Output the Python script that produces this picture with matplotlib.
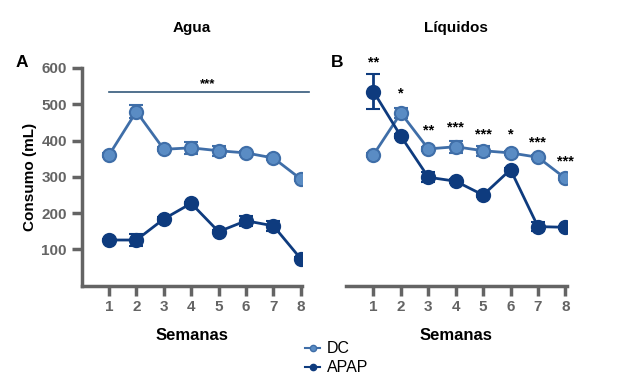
import matplotlib
matplotlib.use("Agg")
import matplotlib.pyplot as plt
from matplotlib.lines import Line2D

plt.rcParams['font.family'] = ['Liberation Sans', 'DejaVu Sans']

semanas = [1, 2, 3, 4, 5, 6, 7, 8]

# Agua
dc_agua = [360, 480, 376, 380, 372, 366, 352, 294]
dc_agua_err = [5, 18, 6, 16, 14, 6, 6, 6]
apap_agua = [126, 126, 184, 227, 149, 179, 165, 74]
apap_agua_err = [4, 16, 6, 5, 5, 14, 14, 4]

# Liquidos
dc_liq = [361, 476, 377, 383, 372, 366, 354, 296]
dc_liq_err = [5, 13, 6, 17, 14, 6, 6, 6]
apap_liq = [535, 412, 299, 288, 250, 320, 163, 161]
apap_liq_err = [49, 5, 14, 5, 5, 5, 12, 4]
estrellas = ['**', '*', '**', '***', '***', '*', '***', '***']
pos_estrellas = [596, 510, 408, 418, 398, 398, 376, 322]

c_dc = '#3f6ea8'
c_dc_fill = '#5a8cc4'
c_apap = '#0e3b7e'
gris = '#646464'

fig = plt.figure(figsize=(6.18, 3.82), dpi=100)
axA = fig.add_axes([0.132, 0.252, 0.357, 0.57])
axB = fig.add_axes([0.560, 0.252, 0.357, 0.57])


def serie(ax, y, err, color, fill):
    ax.errorbar(semanas, y, yerr=err, color=color, lw=2, marker='o', markersize=9.5,
                markerfacecolor=fill, markeredgecolor=color, markeredgewidth=1.5,
                capsize=5, capthick=2, elinewidth=2, zorder=3)


for ax, dc, dce, ap, ape in [(axA, dc_agua, dc_agua_err, apap_agua, apap_agua_err),
                             (axB, dc_liq, dc_liq_err, apap_liq, apap_liq_err)]:
    serie(ax, dc, dce, c_dc, c_dc_fill)
    serie(ax, ap, ape, c_apap, c_apap)
    ax.set_xlim(0, 8.05)
    ax.set_ylim(0, 600)
    ax.set_xticks(semanas)
    for s in ['top', 'right']:
        ax.spines[s].set_visible(False)
    for s in ['left', 'bottom']:
        ax.spines[s].set_color(gris)
        ax.spines[s].set_linewidth(2.5)
    ax.tick_params(colors=gris, width=2.5, length=7, labelsize=11)
    for t in ax.get_xticklabels() + ax.get_yticklabels():
        t.set_fontweight('bold')
    ax.set_xlabel('Semanas', fontsize=12, fontweight='bold', labelpad=10)

axA.set_yticks([100, 200, 300, 400, 500, 600])
axA.set_ylabel('Consumo (mL)', fontsize=11, fontweight='bold', labelpad=3)
axA.set_title('Agua', fontsize=11, fontweight='bold', pad=26)
axA.plot([1, 8.3], [533, 533], color='#33597a', lw=1.2, clip_on=False)
axA.text(4.6, 538, '***', ha='center', va='bottom', fontsize=9.5, fontweight='bold')

axB.spines['left'].set_visible(False)
axB.set_yticks([])
axB.set_title('Líquidos', fontsize=11, fontweight='bold', pad=26)
for x, s, y in zip(semanas, estrellas, pos_estrellas):
    axB.text(x, y, s, ha='center', va='bottom', fontsize=10.5, fontweight='bold')

fig.text(0.025, 0.825, 'A', fontsize=12.5, fontweight='bold')
fig.text(0.535, 0.825, 'B', fontsize=12.5, fontweight='bold')

handles = [Line2D([], [], color=c_dc, lw=1.5, marker='o', markersize=4.5,
                  markerfacecolor=c_dc_fill, markeredgecolor=c_dc),
           Line2D([], [], color=c_apap, lw=1.5, marker='o', markersize=4.5,
                  markerfacecolor=c_apap, markeredgecolor=c_apap)]
fig.legend(handles, ['DC', 'APAP'], loc='center', bbox_to_anchor=(0.545, 0.062),
           frameon=False, fontsize=11.5, handlelength=0.9, handletextpad=0.45,
           labelspacing=0.25)

fig.savefig('out.png', dpi=100)
